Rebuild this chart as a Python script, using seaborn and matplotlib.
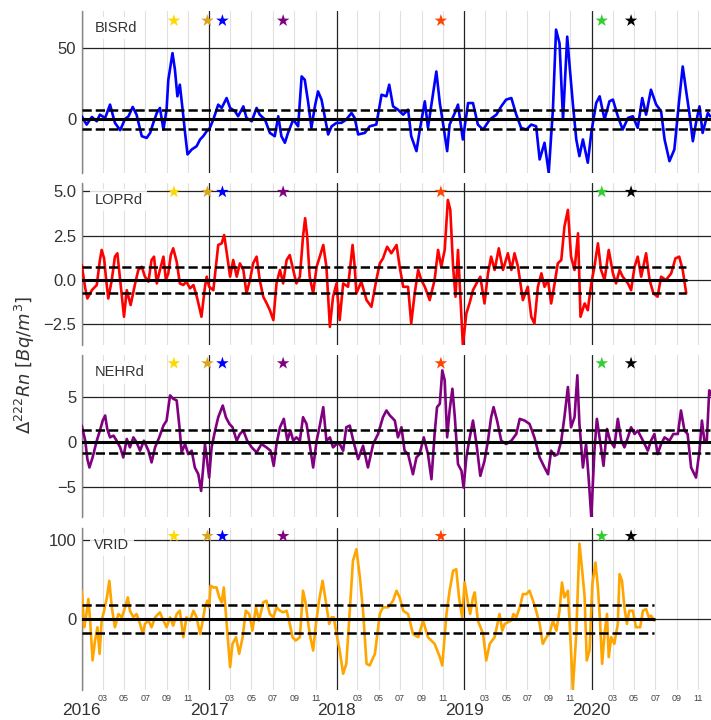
import numpy as np
import pandas as pd
import matplotlib
matplotlib.use("Agg")
import matplotlib.pyplot as plt
import matplotlib.dates as mdates
import seaborn as sns

sns.set_style("whitegrid")
plt.rcParams["font.family"] = ["Liberation Sans", "DejaVu Sans"]

# Radon anomaly series: days since 2016-01-01 and Delta 222Rn values
bisrd_day = [0, 14, 29, 43, 52, 67, 81, 95, 110, 124,
             134, 146, 157, 172, 186, 196, 205, 215, 224, 234,
             243, 248, 260, 267, 274, 281, 289, 296, 303, 315,
             329, 339, 348, 358, 365, 377, 391, 401, 415, 425,
             439, 448, 463, 472, 487, 501, 510, 525, 539, 553,
             563, 572, 582, 591, 606, 620, 630, 639, 649, 658,
             668, 677, 687, 696, 706, 716, 730, 744, 758, 773,
             782, 792, 811, 825, 844, 859, 873, 881, 892, 906,
             921, 935, 944, 959, 968, 983, 992, 1007, 1016, 1026,
             1035, 1047, 1054, 1069, 1078, 1092, 1107, 1121, 1135, 1150,
             1169, 1188, 1202, 1216, 1231, 1245, 1259, 1274, 1288, 1302,
             1312, 1326, 1338, 1350, 1359, 1369, 1379, 1391, 1398, 1407,
             1417, 1426, 1436, 1450, 1460, 1474, 1484, 1498, 1512, 1522,
             1536, 1550, 1565, 1579, 1593, 1606, 1617, 1631, 1646, 1660,
             1670, 1684, 1698, 1712, 1722, 1732, 1741, 1751, 1760, 1770,
             1779, 1794, 1801]
bisrd_val = [2.1, -3.7, 1.6, -1.4, 3.2, 0.9, 10.2, -2.5, -7.6, 0.2,
             2.1, 8.6, 3.2, -11.8, -13.0, -9.5, -2.5, 4.4, 7.9, -7.2,
             6.7, 27.5, 46.1, 34.5, 16.0, 24.1, 6.7, -9.5, -24.5, -21.1,
             -18.8, -14.1, -11.8, -8.3, -7.2, -0.2, 10.2, 7.9, 14.8, 7.9,
             5.6, 2.1, 9.0, 0.9, -1.4, 7.9, 3.2, -0.2, -9.5, -11.8,
             2.1, -11.8, -16.4, -9.5, -0.2, -4.9, 29.9, 27.5, 11.3, -6.0,
             9.0, 19.4, 13.7, 2.1, -10.6, -4.9, -2.5, -2.5, -0.2, 4.4,
             0.9, -10.6, -9.5, -4.9, -3.7, 17.1, 16.0, 24.1, 9.0, 6.7,
             3.2, 6.7, -11.8, -22.2, -8.3, 12.5, -6.0, 18.3, 33.3, 11.3,
             -2.5, -22.2, -3.7, 4.4, 10.2, -14.1, 11.3, 11.3, -3.7, -7.2,
             -0.2, 3.2, 9.0, 13.7, 14.8, 3.2, -6.0, -7.2, -3.7, -4.9,
             -28.0, -16.4, -37.3, 6.7, 62.5, 53.0, -0.2, 57.6, 36.8, 11.3,
             -14.1, -25.7, -14.1, -30.3, -9.5, 11.3, 16.0, -0.2, 12.5, 13.7,
             2.1, -7.2, 0.9, 2.1, -6.0, 14.8, 3.2, 20.6, 10.2, 5.6,
             -14.1, -29.2, -21.1, 13.7, 36.8, 19.4, 4.4, -15.3, -2.5, 9.0,
             -9.5, 4.4, 2.0]

loprd_day = [0, 10, 16, 29, 43, 52, 57, 64, 70, 76,
             86, 95, 102, 110, 121, 129, 140, 153, 162, 172,
             181, 191, 200, 207, 215, 224, 234, 241, 248, 255,
             262, 272, 281, 291, 300, 310, 320, 331, 343, 353,
             358, 365, 377, 391, 401, 408, 415, 425, 434, 444,
             453, 463, 472, 482, 491, 501, 510, 520, 530, 539,
             549, 558, 568, 577, 587, 596, 606, 615, 625, 634,
             640, 646, 653, 663, 673, 682, 692, 701, 711, 720,
             730, 739, 749, 763, 776, 782, 787, 801, 816, 830,
             844, 854, 863, 875, 887, 902, 911, 921, 935, 944,
             954, 964, 973, 983, 997, 1011, 1021, 1030, 1040, 1049,
             1056, 1064, 1071, 1078, 1085, 1092, 1102, 1111, 1121, 1131,
             1142, 1154, 1164, 1173, 1183, 1195, 1207, 1221, 1231, 1240,
             1250, 1264, 1278, 1288, 1297, 1307, 1317, 1326, 1336, 1345,
             1355, 1364, 1374, 1383, 1393, 1402, 1412, 1422, 1429, 1441,
             1450, 1460, 1469, 1479, 1488, 1498, 1510, 1522, 1531, 1541,
             1550, 1565, 1574, 1584, 1593, 1603, 1617, 1627, 1638, 1650,
             1660, 1674, 1689, 1701, 1712, 1722, 1732]
loprd_val = [0.85, -0.47, -1.04, -0.57, -0.28, 1.13, 1.70, 1.22, 0.0, -1.04,
             0.0, 1.32, 1.51, 0.0, -2.07, -0.57, -1.41, -0.19, 0.57, 0.75,
             0.19, -0.09, 1.13, 1.32, -0.19, 0.57, 1.32, 0.0, 0.38, 1.41,
             1.79, 1.04, -0.19, -0.28, -0.09, -0.47, -0.28, -1.04, -2.07, -0.38,
             0.19, -0.38, -0.57, 1.98, 2.07, 2.54, 1.60, 0.19, 1.13, 0.19,
             0.94, 0.57, -0.75, 0.0, 0.94, 1.32, 0.0, -0.94, -1.32, -1.70,
             -2.26, -0.19, 0.57, -0.19, 1.13, 1.41, 0.57, -0.19, 0.19, 2.45,
             3.49, 2.45, 0.19, -0.75, 0.75, 1.32, 1.98, 0.75, -2.64, -0.94,
             -0.19, -2.26, -0.19, -0.38, 1.98, 0.75, -0.75, -0.09, -1.13, -1.51,
             0.0, 0.94, 1.22, 1.88, 1.51, 1.98, 0.75, -0.38, -0.38, -2.45,
             -0.75, 0.57, 0.0, -0.38, -1.13, 0.0, 1.70, 0.75, 1.70, 4.52,
             3.96, 0.75, -0.94, 1.70, -0.94, -3.67, -1.88, -1.32, -0.57, -0.19,
             0.19, -1.32, 0.38, 1.32, 0.57, 1.79, 0.57, 1.51, 0.57, 1.51,
             0.75, -1.13, -0.38, -2.07, -2.45, -0.38, 0.38, -0.38, 0.0, -1.32,
             -0.19, 0.94, 1.13, 3.01, 3.96, 1.32, 0.57, 2.64, -2.07, -1.32,
             -1.70, -0.19, 0.75, 2.07, 0.57, 0.0, 1.70, 0.38, -0.19, 0.57,
             0.19, -0.19, -0.57, 0.75, 1.32, 0.19, 1.51, 0.0, -0.75, -0.94,
             0.19, 0.0, 0.38, 1.22, 1.32, 0.57, -0.75]

nehrd_day = [0, 10, 16, 22, 31, 43, 52, 60, 67, 73,
             81, 91, 100, 110, 119, 129, 138, 148, 157, 167,
             178, 191, 200, 210, 222, 234, 243, 253, 262, 272,
             280, 286, 296, 305, 315, 324, 334, 342, 348, 353,
             358, 365, 372, 382, 391, 404, 413, 423, 432, 444,
             453, 463, 474, 487, 501, 515, 529, 541, 550, 558,
             568, 579, 589, 598, 606, 615, 625, 634, 644, 653,
             663, 673, 682, 692, 701, 711, 720, 730, 739, 749,
             758, 768, 778, 792, 806, 820, 835, 849, 863, 873,
             883, 897, 906, 916, 925, 935, 949, 959, 968, 980,
             992, 1002, 1011, 1018, 1026, 1033, 1040, 1047, 1054, 1062,
             1069, 1078, 1088, 1094, 1102, 1110, 1121, 1131, 1142, 1154,
             1164, 1173, 1180, 1190, 1202, 1216, 1231, 1245, 1255, 1269,
             1283, 1297, 1312, 1326, 1336, 1345, 1355, 1364, 1374, 1383,
             1393, 1402, 1412, 1420, 1426, 1436, 1445, 1453, 1460, 1469,
             1476, 1485, 1495, 1505, 1514, 1526, 1536, 1546, 1555, 1565,
             1574, 1584, 1593, 1608, 1622, 1631, 1641, 1650, 1660, 1670,
             1684, 1695, 1708, 1717, 1727, 1736, 1746, 1760, 1770, 1777,
             1784, 1791, 1798, 1801]
nehrd_val = [1.78, 0.11, -1.93, -2.86, -1.75, 0.11, 1.23, 2.34, 2.90, 1.41,
             0.48, 0.67, 0.11, -0.63, -1.75, 0.30, -0.63, 0.48, -0.07, -1.00,
             0.11, -1.00, -2.30, -0.63, 0.48, 1.78, 2.34, 5.13, 4.76, 4.57,
             1.60, -1.19, -0.26, -1.38, -1.00, -2.86, -3.61, -5.46, -2.86, -0.26,
             -1.75, -3.98, -0.63, 1.23, 2.71, 4.01, 2.71, 1.97, 1.60, 0.11,
             0.85, 1.23, 0.11, -0.63, -1.19, -0.26, -0.63, -1.00, -2.68, -0.26,
             1.60, 2.53, 0.11, 1.23, 0.11, 0.48, 0.11, 2.71, 1.97, -0.26,
             -2.86, 0.11, 1.78, 3.83, 0.11, 0.48, -0.63, -0.26, -0.26, -1.00,
             1.60, 1.78, 0.11, -1.93, -0.45, -2.86, -0.26, 0.85, 2.71, 3.46,
             2.90, 2.34, 0.48, 1.60, -1.00, -1.38, -3.61, -1.75, -1.38, 0.48,
             -1.38, -4.16, 0.85, 3.83, 4.20, 7.90, 6.80, 0.48, 3.46, 5.87,
             2.71, -2.49, -3.23, -5.09, -1.75, 0.11, 2.34, -0.26, -3.79, -2.12,
             0.11, 2.71, 3.83, 2.34, 0.11, -0.26, 0.11, 0.85, 2.53, 2.34,
             1.97, 0.48, -1.75, -2.86, -3.61, -1.00, -1.56, -1.38, 0.11, 2.71,
             6.06, 1.60, 2.71, 7.36, 1.97, -2.86, -0.26, -4.35, -8.40, -1.00,
             2.53, 0.11, -2.68, 1.41, 0.11, -0.63, 2.53, 0.11, -0.63, 0.48,
             1.60, 0.85, 1.23, 0.11, -1.00, 0.11, 0.85, -1.38, -0.26, 0.48,
             0.11, 0.85, 0.85, 3.46, 1.23, 0.85, -2.86, -3.98, -1.00, 2.34,
             0.11, 0.11, 5.69, 5.20]

vrid_day = [0, 7, 12, 19, 24, 31, 38, 45, 51, 57,
            64, 72, 79, 86, 95, 105, 115, 124, 132, 138,
            148, 157, 167, 175, 181, 191, 200, 210, 224, 234,
            243, 253, 262, 272, 281, 291, 300, 310, 320, 329,
            339, 345, 353, 360, 365, 369, 377, 386, 394, 401,
            407, 413, 420, 425, 432, 442, 451, 461, 470, 480,
            489, 499, 508, 520, 529, 539, 549, 558, 568, 577,
            587, 596, 604, 613, 625, 634, 642, 649, 655, 663,
            671, 680, 690, 699, 709, 716, 722, 730, 739, 749,
            758, 768, 777, 787, 797, 806, 816, 825, 840, 854,
            863, 878, 892, 902, 911, 921, 935, 949, 964, 978,
            992, 1011, 1026, 1033, 1045, 1054, 1064, 1073, 1081, 1090,
            1097, 1107, 1113, 1121, 1126, 1135, 1150, 1159, 1169, 1183,
            1197, 1205, 1212, 1221, 1231, 1237, 1245, 1255, 1264, 1274,
            1283, 1293, 1302, 1312, 1321, 1331, 1340, 1350, 1360, 1369,
            1376, 1383, 1393, 1402, 1407, 1417, 1426, 1434, 1441, 1447,
            1455, 1463, 1472, 1479, 1485, 1491, 1498, 1505, 1510, 1517,
            1526, 1536, 1541, 1548, 1555, 1562, 1569, 1579, 1588, 1600,
            1608, 1617, 1625, 1631, 1641]
vrid_val = [35.9, -10.5, 2.1, 25.3, -2.1, -52.7, -27.4, -10.5, -44.3, -2.1,
            10.5, 27.4, 48.5, 14.8, -10.5, 6.3, 2.1, 14.8, 27.4, 10.5,
            2.1, 6.3, -6.3, -19.0, -6.3, -2.1, -10.5, 2.1, 8.4, -2.1,
            -10.5, 2.1, -8.4, 6.3, 10.5, -23.2, 2.1, -2.1, 10.5, 2.1,
            -19.0, -6.3, 14.8, 23.2, 14.8, 42.2, 40.1, 40.1, 27.4, 21.1,
            40.1, 6.3, -31.6, -61.2, -31.6, -23.2, -44.3, -23.2, 10.5, 6.3,
            -14.8, 14.8, -2.1, 21.1, 23.2, 6.3, 2.1, 14.8, 10.5, 8.4,
            10.5, -6.3, -23.2, -27.4, -23.2, 35.9, 19.0, -6.3, -23.2, -40.1,
            -6.3, 23.2, 48.5, 23.2, -6.3, 2.1, 2.1, -19.0, -40.1, -69.6,
            -57.0, 10.5, 73.8, 88.6, 52.7, 10.5, -57.0, -59.1, -44.3, 6.3,
            14.8, 14.8, 23.2, 35.9, 27.4, 10.5, 6.3, -19.0, -23.2, -2.1,
            -23.2, -31.6, -48.5, -59.1, 6.3, 35.9, 61.2, 63.3, 27.4, 2.1,
            46.4, 19.0, 6.3, 27.4, 33.8, -2.1, -19.0, -52.7, -31.6, -23.2,
            6.3, -14.8, -6.3, -4.2, -2.1, 6.3, 2.1, 14.8, 31.6, 31.6,
            35.9, 23.2, 10.5, -6.3, -31.6, -23.2, -19.0, -2.1, -14.8, 10.5,
            46.4, 27.4, 35.9, -40.1, -90.0, -19.0, 95.8, 61.2, 27.4, -52.7,
            -40.1, 44.3, 71.7, 40.1, -2.1, -57.0, -19.0, 6.3, -48.5, -23.2,
            -31.6, -6.3, 57.0, 48.5, 14.8, -6.3, 10.5, 10.5, -10.5, -10.5,
            10.5, 12.7, 2.1, 4.2, -2.1]

stations = ["BISRd", "LOPRd", "NEHRd", "VRID"]
station_days = [bisrd_day, loprd_day, nehrd_day, vrid_day]
station_vals = [bisrd_val, loprd_val, nehrd_val, vrid_val]
station_colors = ["#0000ff", "#ff0000", "#800080", "#ffa500"]
band_halfwidth = [6.8, 0.74, 1.25, 18.0]
y_ticks = [[0, 50], [-2.5, 0.0, 2.5, 5.0], [-5, 0, 5], [0, 100]]
y_fmt = ["{:.0f}", "{:.1f}", "{:.0f}", "{:.0f}"]

event_dates = ["2016-09-21", "2016-12-26", "2017-02-07", "2017-07-31",
               "2018-10-26", "2020-01-30", "2020-04-23"]
event_colors = ["#ffd700", "#daa520", "#0000ff", "#800080",
                "#ff4500", "#32cd32", "#000000"]

start = pd.Timestamp("2016-01-01")
x_end = pd.Timestamp("2020-12-07")
events = pd.to_datetime(event_dates)

fig, axes = plt.subplots(4, 1, figsize=(7.11, 7.20), dpi=100, sharex=True)
fig.subplots_adjust(left=0.115, right=0.9995, top=0.985, bottom=0.042, hspace=0.064)

for i, ax in enumerate(axes):
    t = start + pd.to_timedelta(station_days[i], unit="D")
    v = np.asarray(station_vals[i], dtype=float)
    df = pd.DataFrame({"date": t, "value": v})
    sns.lineplot(data=df, x="date", y="value", ax=ax, color=station_colors[i],
                 lw=1.9, zorder=3)
    b = band_halfwidth[i]
    ax.plot([t[0], t[-1]], [0, 0], color="black", lw=2.2, zorder=4)
    ax.plot([t[0], t[-1]], [b, b], color="black", lw=1.8, ls="--", zorder=4)
    ax.plot([t[0], t[-1]], [-b, -b], color="black", lw=1.8, ls="--", zorder=4)

    y_star = 1.1 * v.max()
    sns.scatterplot(x=events, y=[y_star] * len(events), ax=ax, marker="*",
                    s=90, color=event_colors, edgecolor="none", zorder=5,
                    legend=False)

    ax.set_ylim(v.min(), 1.1 * y_star)
    ax.set_xlim(start, x_end)
    ax.set_yticks(y_ticks[i])
    ax.set_yticklabels([y_fmt[i].format(y).replace("-", "\u2212") for y in y_ticks[i]])
    ax.set_xlabel("")
    ax.set_ylabel("")

    ax.text(0.02, 0.895, stations[i], transform=ax.transAxes, fontsize=10.5,
            color="#333333", va="center", ha="left", zorder=6,
            bbox=dict(facecolor="white", alpha=0.85, edgecolor="none", pad=3))

    ax.xaxis.set_major_locator(mdates.YearLocator())
    ax.xaxis.set_major_formatter(mdates.DateFormatter("%Y"))
    ax.xaxis.set_minor_locator(mdates.MonthLocator(bymonth=[3, 5, 7, 9, 11]))
    ax.xaxis.set_minor_formatter(mdates.DateFormatter("%m"))

    ax.grid(which="major", color="#222222", lw=0.9)
    ax.grid(which="minor", axis="x", color="#e0e0e0", lw=0.8)
    ax.set_axisbelow(True)

    for side in ["top", "right", "bottom"]:
        ax.spines[side].set_visible(False)
    ax.spines["left"].set_color("#888888")
    ax.spines["left"].set_linewidth(1.0)

    ax.tick_params(axis="y", labelsize=12, length=0, pad=4, colors="#333333")
    ax.tick_params(axis="x", which="major", labelsize=12.5, length=0, pad=9.5,
                   colors="#333333")
    ax.tick_params(axis="x", which="minor", labelsize=6.5, length=0, pad=3,
                   colors="#444444")

fig.text(0.035, 0.493, r"$\Delta^{222}Rn\ [Bq/m^3]$", rotation=90,
         va="center", ha="center", fontsize=13, color="#333333")

fig.savefig("out.png", dpi=100)
